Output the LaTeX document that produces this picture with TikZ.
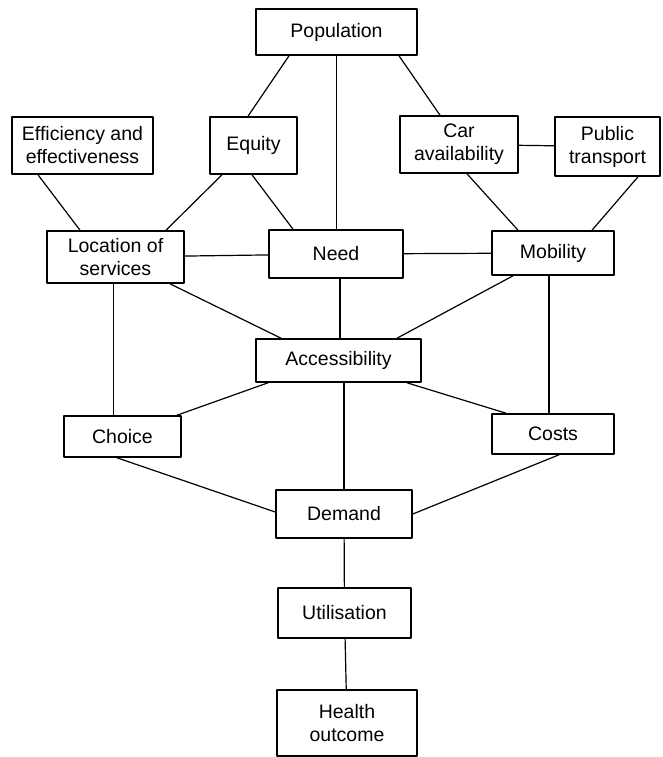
\documentclass[tikz,border=0pt]{standalone}
\usepackage{fontspec}
\setmainfont{Liberation Sans}
\usetikzlibrary{positioning}

\begin{document}
\begin{tikzpicture}[line cap=round,line join=round,x=1pt,y=-1pt,
  box/.style={draw=black,line width=1.6pt,align=center,inner sep=0pt,font=\fontsize{19.5}{23}\selectfont},
  link/.style={draw=black,line width=1.2pt}]
\useasboundingbox (0,0) rectangle (662,757);
\node[box,minimum width=161,minimum height=46] (pop) at (336.5,32) {Population};
\node[box,minimum width=141,minimum height=57] (eff) at (82.5,145.5) {Efficiency and\\effectiveness};
\node[box,minimum width=87,minimum height=57] (equ) at (253.5,145.5) {Equity};
\node[box,minimum width=118,minimum height=57] (car) at (459,144.5) {Car\\availability};
\node[box,minimum width=105,minimum height=59] (pub) at (607.5,146.5) {Public\\transport};
\node[box,minimum width=137,minimum height=52] (loc) at (115.5,257) {Location of\\services};
\node[box,minimum width=134,minimum height=48] (need) at (336,254) {Need};
\node[box,minimum width=122,minimum height=44] (mob) at (553,253) {Mobility};
\node[box,minimum width=165,minimum height=43] (acc) at (338.5,360.5) {Accessibility};
\node[box,minimum width=117,minimum height=41] (cho) at (122.5,436.5) {Choice};
\node[box,minimum width=122,minimum height=40] (cost) at (553,434) {Costs};
\node[box,minimum width=136,minimum height=48] (dem) at (344,514) {Demand};
\node[box,minimum width=133,minimum height=50] (uti) at (344.5,613) {Utilisation};
\node[box,minimum width=140,minimum height=66] (hea) at (347,723) {Health\\outcome};
\draw[link] ([xshift=-47.5]pop.south) -- ([xshift=-5.5]equ.north);
\draw[link] (pop.south) -- (pop.south |- need.north);
\draw[link] ([xshift=62.5]pop.south) -- ([xshift=-19]car.north);
\draw[link] ([xshift=-44.5]eff.south) -- ([xshift=-35.5]loc.north);
\draw[link] ([xshift=-31.5]equ.south) -- ([xshift=50.5]loc.north);
\draw[link] ([xshift=-1.5]equ.south) -- ([xshift=-43]need.north);
\draw[link] (car) -- (pub);
\draw[link] ([xshift=8]car.south) -- ([xshift=-35]mob.north);
\draw[link] ([xshift=30.5]pub.south) -- ([xshift=39]mob.north);
\draw[link] (loc) -- (need);
\draw[link] (need) -- (mob);
\draw[link] ([xshift=54.5]loc.south) -- ([xshift=-57.5]acc.north);
\draw[link] ([xshift=4]need.south) -- ([xshift=4]need.south |- acc.north);
\draw[link] ([xshift=-40]mob.south) -- ([xshift=58.5]acc.north);
\draw[link] ([xshift=-2]loc.south) -- ([xshift=-2]loc.south |- cho.north);
\draw[link] ([xshift=-4]mob.south) -- ([xshift=-4]mob.south |- cost.north);
\draw[link] ([xshift=-70.5]acc.south) -- ([xshift=54.5]cho.north);
\draw[link] ([xshift=68.5]acc.south) -- ([xshift=-47]cost.north);
\draw[link] ([xshift=5.5]acc.south) -- (dem.north);
\draw[link] ([xshift=-5.5]cho.south) -- ([yshift=2]dem.west);
\draw[link] ([xshift=6]cost.south) -- (dem.east);
\draw[link] (dem) -- (uti);
\draw[link] (uti) -- (hea);
\end{tikzpicture}
\end{document}
